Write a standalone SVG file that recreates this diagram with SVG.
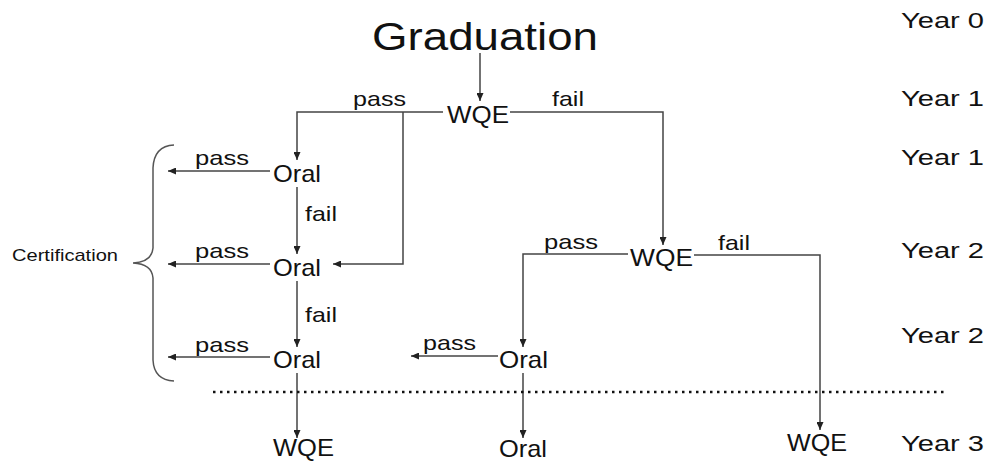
<svg xmlns="http://www.w3.org/2000/svg" width="987" height="463" viewBox="0 0 987 463">
<defs>
<marker id="ah" viewBox="0 0 8 7" refX="8" refY="3.5" markerWidth="8" markerHeight="7" markerUnits="userSpaceOnUse" orient="auto">
<path d="M0,0 L8,3.5 L0,7 z" fill="#222"/>
</marker>
<style>
text{font-family:"Liberation Sans",Arial,sans-serif;fill:#111;}
.n{font-size:24px;}
.l{font-size:21px;}
.y{font-size:22px;}
.c{fill:none;stroke:#444;stroke-width:1.5;}
.a{marker-end:url(#ah);}
</style>
</defs>
<rect width="987" height="463" fill="#fff"/>
<g id="connectors">
<path class="c a" d="M480,53 V101"/>
<path class="c a" d="M443,112 H297 V160"/>
<path class="c a" d="M403,112 V264 H333"/>
<path class="c a" d="M510,112 H663 V245"/>
<path class="c a" d="M270,171 H168"/>
<path class="c a" d="M297,187 V254"/>
<path class="c a" d="M270,264 H168"/>
<path class="c a" d="M297,281 V347"/>
<path class="c a" d="M270,357 H168"/>
<path class="c a" d="M297,373 V438"/>
<path class="c a" d="M628,254 H523 V347"/>
<path class="c a" d="M694,255 H820 V430"/>
<path class="c a" d="M498,356 H411"/>
<path class="c a" d="M523,373 V438"/>
<path d="M213,392 H948" fill="none" stroke="#111" stroke-width="2.5" stroke-dasharray="2.5 4.5"/>
</g>
<g id="brace">
<path d="M174,145 Q154,146 153,168 V248 Q152,262 133,263 Q152,264 153,278 V360 Q154,380 174,381" fill="none" stroke="#555" stroke-width="1.5"/>
<text x="12" y="261" font-size="17" textLength="106" lengthAdjust="spacingAndGlyphs">Certification</text>
</g>
<g id="graduation"><text x="372" y="50" font-size="38" textLength="226" lengthAdjust="spacingAndGlyphs">Graduation</text></g>
<g id="wqe1"><text class="n" x="447" y="123" textLength="62" lengthAdjust="spacingAndGlyphs">WQE</text></g>
<g id="oral1"><text class="n" x="273" y="182" textLength="48" lengthAdjust="spacingAndGlyphs">Oral</text></g>
<g id="oral2"><text class="n" x="273" y="276" textLength="48" lengthAdjust="spacingAndGlyphs">Oral</text></g>
<g id="oral3"><text class="n" x="273" y="368" textLength="48" lengthAdjust="spacingAndGlyphs">Oral</text></g>
<g id="wqe2"><text class="n" x="630" y="266" textLength="63" lengthAdjust="spacingAndGlyphs">WQE</text></g>
<g id="oral4"><text class="n" x="499" y="368" textLength="49" lengthAdjust="spacingAndGlyphs">Oral</text></g>
<g id="wqe3"><text class="n" x="273" y="456" textLength="61" lengthAdjust="spacingAndGlyphs">WQE</text></g>
<g id="oral5"><text class="n" x="499" y="457" textLength="48" lengthAdjust="spacingAndGlyphs">Oral</text></g>
<g id="wqe4"><text class="n" x="787" y="451" textLength="60" lengthAdjust="spacingAndGlyphs">WQE</text></g>
<g id="labels">
<text class="l" x="353" y="106" textLength="53" lengthAdjust="spacingAndGlyphs">pass</text>
<text class="l" x="552" y="106" textLength="32" lengthAdjust="spacingAndGlyphs">fail</text>
<text class="l" x="195" y="165" textLength="54" lengthAdjust="spacingAndGlyphs">pass</text>
<text class="l" x="305" y="221" textLength="32" lengthAdjust="spacingAndGlyphs">fail</text>
<text class="l" x="195" y="258" textLength="54" lengthAdjust="spacingAndGlyphs">pass</text>
<text class="l" x="305" y="322" textLength="32" lengthAdjust="spacingAndGlyphs">fail</text>
<text class="l" x="195" y="352" textLength="54" lengthAdjust="spacingAndGlyphs">pass</text>
<text class="l" x="544" y="249" textLength="54" lengthAdjust="spacingAndGlyphs">pass</text>
<text class="l" x="718" y="250" textLength="32" lengthAdjust="spacingAndGlyphs">fail</text>
<text class="l" x="423" y="350" textLength="53" lengthAdjust="spacingAndGlyphs">pass</text>
</g>
<g id="years">
<text class="y" x="901" y="28" textLength="83" lengthAdjust="spacingAndGlyphs">Year 0</text>
<text class="y" x="901" y="106" textLength="83" lengthAdjust="spacingAndGlyphs">Year 1</text>
<text class="y" x="901" y="165" textLength="83" lengthAdjust="spacingAndGlyphs">Year 1</text>
<text class="y" x="901" y="258" textLength="83" lengthAdjust="spacingAndGlyphs">Year 2</text>
<text class="y" x="901" y="343" textLength="83" lengthAdjust="spacingAndGlyphs">Year 2</text>
<text class="y" x="901" y="451" textLength="83" lengthAdjust="spacingAndGlyphs">Year 3</text>
</g>
</svg>
